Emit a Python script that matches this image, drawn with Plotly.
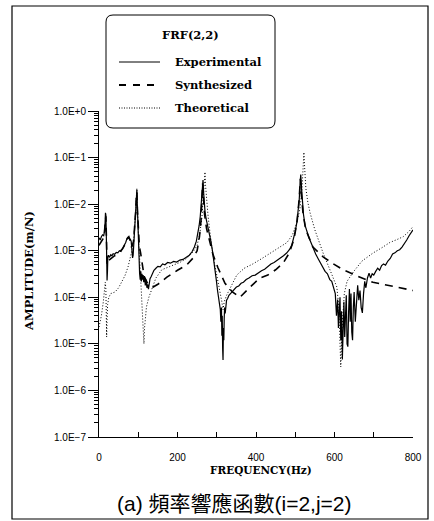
import plotly.graph_objects as go

# ---------------- data: FRF(2,2) amplitude (m/N) vs frequency (Hz) ----------------
exp_freq = [
    0, 3, 6, 9, 12, 14, 15.5, 16.5, 17.5, 18.5,
    19.5, 20.5, 21.5, 22.5, 24, 27, 30, 33, 36, 40,
    44, 48, 52, 56, 60, 64, 68, 71, 74, 77,
    80, 82, 84, 85.5, 87, 88.5, 90, 91.5, 93, 94.5,
    95.5, 96.5, 97.5, 99, 100.5, 102, 103.5, 105, 106.5, 108,
    109.5, 111, 112.5, 114, 116, 118, 120, 122, 124, 126,
    128, 130, 133, 136, 140, 145, 150, 156, 162, 168,
    175, 182, 190, 198, 206, 214, 222, 230, 237, 243,
    248, 252, 255, 258, 260, 262, 263.5, 265, 266.5, 268,
    270, 273, 277, 281, 285, 289, 293, 296, 299, 302,
    305, 307, 309, 310.5, 312, 313, 314, 315, 316, 317,
    318, 319, 320, 321.5, 323, 325, 328, 331, 335, 340,
    345, 350, 356, 362, 368, 375, 382, 390, 398, 406,
    414, 422, 430, 438, 446, 454, 462, 470, 478, 485,
    491, 496, 500, 504, 507, 510, 512, 514, 516, 518,
    521, 525, 530, 535, 540, 546, 552, 558, 564, 570,
    576, 582, 588, 593, 598, 602, 605, 608, 610, 612,
    614, 616, 618, 620, 622, 624, 626, 628, 630, 632,
    634, 636, 638, 640, 642, 644, 646, 648, 650, 653,
    656, 659, 662, 665, 668, 671, 674, 677, 680, 684,
    688, 692, 696, 700, 705, 710, 715, 720, 725, 730,
    736, 742, 748, 754, 760, 766, 772, 778, 784, 790,
    795, 800,
]
exp_amp = [
    1.9e-3, 1.7e-3, 2.0e-3, 2.2e-3, 2.1e-3, 2.6e-3, 4.0e-3, 6.5e-3, 5.8e-3, 2.6e-3,
    9.0e-4, 2.3e-4, 3.5e-4, 7.0e-4, 8.0e-4, 7.2e-4, 8.2e-4, 7.8e-4, 8.6e-4, 8.4e-4,
    9.2e-4, 9.0e-4, 1.0e-3, 9.6e-4, 1.1e-3, 1.25e-3, 1.5e-3, 1.8e-3, 1.9e-3, 1.8e-3,
    1.75e-3, 1.6e-3, 9.0e-4, 7.0e-4, 8.0e-4, 1.4e-3, 2.2e-3, 3.5e-3, 6.0e-3, 1.2e-2,
    1.6e-2, 2.0e-2, 1.0e-2, 3.5e-3, 1.3e-3, 6.0e-4, 3.2e-4, 2.4e-4, 3.6e-4, 2.2e-4,
    3.2e-4, 2.4e-4, 3.0e-4, 2.1e-4, 2.7e-4, 1.8e-4, 2.4e-4, 1.6e-4, 1.9e-4, 1.5e-4,
    1.9e-4, 2.5e-4, 2.8e-4, 3.3e-4, 3.8e-4, 4.2e-4, 4.6e-4, 4.5e-4, 5.2e-4, 5.0e-4,
    5.6e-4, 5.4e-4, 5.9e-4, 5.7e-4, 6.3e-4, 6.5e-4, 7.1e-4, 8.0e-4, 9.5e-4, 1.2e-3,
    1.6e-3, 2.3e-3, 3.4e-3, 5.5e-3, 9.0e-3, 1.8e-2, 2.8e-2, 3.3e-2, 1.8e-2, 1.0e-2,
    7.0e-3, 4.8e-3, 3.5e-3, 2.5e-3, 1.6e-3, 1.0e-3, 6.0e-4, 3.5e-4, 2.3e-4, 1.4e-4,
    1.0e-4, 7.5e-5, 5.5e-5, 3.0e-5, 6.0e-5, 1.5e-5, 4.0e-5, 8.0e-6, 4.5e-6, 2.2e-5,
    1.2e-5, 3.5e-5, 6.0e-5, 4.5e-5, 7.5e-5, 8.7e-5, 9.5e-5, 1.1e-4, 1.2e-4, 1.35e-4,
    1.5e-4, 1.66e-4, 1.75e-4, 2.0e-4, 2.1e-4, 2.4e-4, 2.6e-4, 2.9e-4, 3.0e-4, 3.4e-4,
    3.7e-4, 4.0e-4, 4.6e-4, 5.2e-4, 5.6e-4, 6.2e-4, 7.0e-4, 7.8e-4, 8.9e-4, 1.05e-3,
    1.3e-3, 1.8e-3, 2.6e-3, 4.0e-3, 6.5e-3, 1.2e-2, 2.5e-2, 4.3e-2, 2.2e-2, 1.2e-2,
    6.0e-3, 3.5e-3, 2.4e-3, 1.9e-3, 1.5e-3, 1.1e-3, 8.5e-4, 6.8e-4, 5.4e-4, 4.6e-4,
    3.6e-4, 3.2e-4, 2.4e-4, 2.2e-4, 1.6e-4, 1.2e-4, 4.0e-5, 9.0e-5, 2.2e-5, 6.0e-5,
    1.0e-4, 1.2e-5, 5.0e-5, 4.6e-6, 3.0e-5, 8.0e-5, 1.4e-5, 6.0e-5, 1.1e-4, 1.0e-5,
    8.7e-6, 5.0e-5, 1.5e-4, 3.0e-5, 1.2e-4, 1.8e-5, 1.2e-5, 6.0e-5, 1.3e-4, 3.0e-5,
    1.0e-4, 1.8e-4, 8.7e-5, 1.4e-4, 6.0e-5, 4.6e-5, 1.2e-4, 2.2e-4, 1.6e-4, 2.6e-4,
    3.3e-4, 2.6e-4, 3.2e-4, 3.0e-4, 3.6e-4, 4.2e-4, 3.8e-4, 4.8e-4, 5.2e-4, 4.9e-4,
    6.0e-4, 6.8e-4, 8.5e-4, 9.0e-4, 1.0e-3, 1.05e-3, 1.2e-3, 1.4e-3, 1.7e-3, 2.1e-3,
    2.4e-3, 2.8e-3,
]

syn_freq = [
    0, 5, 10, 14, 16, 17.5, 19, 20.5, 22, 25,
    30, 40, 50, 60, 68, 73, 76, 79, 82, 85,
    88, 91, 93.5, 95.5, 96.5, 98, 100, 103, 106, 110,
    115, 125, 138, 150, 173, 200, 224, 240, 250, 256,
    260, 262.5, 264, 266, 269, 274, 280, 290, 303, 321,
    340, 359, 385, 410, 430, 450, 469, 485, 497, 505,
    510, 513, 516, 520, 527, 545, 571, 594, 622, 660,
    698, 750, 800,
]
syn_amp = [
    1.3e-3, 1.5e-3, 1.8e-3, 2.6e-3, 4.5e-3, 5.5e-3, 1.8e-3, 5.0e-4, 5.2e-4, 6.2e-4,
    6.8e-4, 7.8e-4, 9.0e-4, 1.1e-3, 1.45e-3, 1.9e-3, 2.0e-3, 1.7e-3, 1.2e-3, 1.3e-3,
    1.6e-3, 3.0e-3, 7.0e-3, 1.6e-2, 1.8e-2, 7.0e-3, 2.5e-3, 1.2e-3, 9.0e-4, 5.0e-4,
    2.8e-4, 1.9e-4, 1.66e-4, 1.9e-4, 2.7e-4, 3.8e-4, 5.0e-4, 7.0e-4, 1.0e-3, 2.0e-3,
    4.5e-3, 1.4e-2, 2.8e-2, 1.4e-2, 6.0e-3, 3.0e-3, 1.8e-3, 8.5e-4, 4.3e-4, 2.0e-4,
    1.3e-4, 1.0e-4, 1.66e-4, 2.6e-4, 3.0e-4, 3.9e-4, 5.4e-4, 9.0e-4, 1.8e-3, 4.5e-3,
    1.3e-2, 3.5e-2, 1.5e-2, 6.0e-3, 2.8e-3, 1.2e-3, 7.4e-4, 5.4e-4, 3.9e-4, 2.8e-4,
    2.1e-4, 1.7e-4, 1.4e-4,
]

theo_freq = [
    0, 6, 11, 14, 16, 17.5, 18.5, 19.5, 20.5, 22,
    25, 30, 36, 41, 50, 58, 66, 74, 80, 85,
    89, 92, 94, 95.5, 96.5, 97.5, 99, 102, 105, 108,
    111, 113, 114.5, 116, 118, 121, 127, 134, 145, 160,
    180, 206, 225, 240, 250, 257, 262, 266, 268.5, 270,
    271.5, 274, 278, 284, 291, 300, 308, 313, 316, 319,
    325, 334, 351, 370, 392, 415, 436, 458, 479, 493,
    504, 512, 517, 520, 522, 524, 527, 532, 538, 550,
    571, 590, 606, 611, 614, 616, 618, 621, 625, 632,
    648, 670, 698, 720, 741, 760, 775, 790, 800,
]
theo_amp = [
    2.3e-5, 4.0e-5, 8.0e-5, 1.4e-4, 2.1e-4, 1.5e-4, 5.0e-5, 1.4e-5, 3.5e-5, 7.0e-5,
    1.0e-4, 1.2e-4, 1.25e-4, 1.3e-4, 1.6e-4, 2.1e-4, 2.9e-4, 4.5e-4, 7.0e-4, 1.1e-3,
    2.0e-3, 4.0e-3, 8.0e-3, 1.6e-2, 2.2e-2, 1.0e-2, 3.5e-3, 1.1e-3, 4.0e-4, 1.5e-4,
    5.0e-5, 2.2e-5, 1.0e-5, 2.2e-5, 4.2e-5, 6.3e-5, 1.0e-4, 1.45e-4, 2.6e-4, 3.9e-4,
    4.5e-4, 5.6e-4, 7.0e-4, 9.5e-4, 1.3e-3, 2.4e-3, 5.0e-3, 1.3e-2, 2.8e-2, 4.9e-2,
    2.5e-2, 1.1e-2, 5.4e-3, 2.0e-3, 7.4e-4, 3.0e-4, 1.45e-4, 8.0e-5, 5.4e-5, 8.0e-5,
    1.1e-4, 1.6e-4, 3.0e-4, 4.2e-4, 5.2e-4, 6.8e-4, 8.9e-4, 1.15e-3, 1.5e-3, 2.2e-3,
    4.0e-3, 8.0e-3, 2.0e-2, 6.0e-2, 1.3e-1, 6.0e-2, 2.2e-2, 1.1e-2, 6.4e-3, 2.8e-3,
    8.9e-4, 3.6e-4, 1.66e-4, 6.0e-5, 1.5e-5, 3.2e-6, 1.5e-5, 5.0e-5, 1.2e-4, 2.2e-4,
    3.5e-4, 6.0e-4, 8.9e-4, 1.15e-3, 1.5e-3, 1.75e-3, 2.0e-3, 2.6e-3, 3.3e-3,
]

x_ticks = [0, 200, 400, 600, 800]
x_minor = [100, 300, 500, 700]
y_ticks = [1e0, 1e-1, 1e-2, 1e-3, 1e-4, 1e-5, 1e-6, 1e-7]
y_labels = ["1.0E+0", "1.0E\u22121", "1.0E\u22122", "1.0E\u22123",
            "1.0E\u22124", "1.0E\u22125", "1.0E\u22126", "1.0E\u22127"]
series_names = ["Experimental", "Synthesized", "Theoretical"]

# ---------------- page geometry (pixels) ----------------
W, H = 434, 521
L, R, T, B = 99, 413, 111, 437


def px(x):
    return (x - L) / (R - L)


def py(y):
    return (B - y) / (B - T)


fig = go.Figure()
styles = [
    dict(color="black", width=1.2),
    dict(color="black", width=1.6, dash="8px,6px"),
    dict(color="black", width=1.0, dash="1px,2px"),
]
for name, xs, ys, st in zip(series_names,
                            [exp_freq, syn_freq, theo_freq],
                            [exp_amp, syn_amp, theo_amp], styles):
    fig.add_trace(go.Scatter(x=xs, y=ys, mode="lines", name=name,
                             line=st, showlegend=False))

tick_font = dict(family="Liberation Sans, Arial, sans-serif", size=10, color="black")
fig.update_xaxes(range=[0, 800], showline=True, linecolor="black", linewidth=1,
                 ticks="inside", ticklen=5, tickcolor="black", tickwidth=1,
                 tickvals=x_ticks, ticktext=[str(v) for v in x_ticks],
                 minor=dict(tickvals=x_minor, ticks="inside", ticklen=5,
                            tickcolor="black", showgrid=False),
                 showgrid=False, zeroline=False, tickfont=tick_font,
                 ticklabelstandoff=11)
minor_y = [m * 10 ** e for e in range(-7, 0) for m in range(2, 10)]
fig.update_yaxes(type="log", range=[-7, 0], showline=True, linecolor="black",
                 linewidth=1, ticks="outside", ticklen=10, tickcolor="black",
                 tickvals=y_ticks, ticktext=y_labels,
                 minor=dict(tickvals=minor_y, ticks="outside", ticklen=4,
                            tickcolor="black", showgrid=False),
                 showgrid=False, zeroline=False, tickfont=tick_font)

shapes = []
# outer frame
shapes.append(dict(type="rect", xref="paper", yref="paper",
                   x0=px(12), x1=px(428), y0=py(519), y1=py(6),
                   line=dict(color="black", width=1.2)))

# rounded legend box
bx0, bx1, by0, by1, rad = 106, 275, 15, 128, 7
rx, ry = rad / (R - L), rad / (B - T)
X0, X1, Y0, Y1 = px(bx0), px(bx1), py(by1), py(by0)
path = (f"M {X0 + rx},{Y1} L {X1 - rx},{Y1} Q {X1},{Y1} {X1},{Y1 - ry} "
        f"L {X1},{Y0 + ry} Q {X1},{Y0} {X1 - rx},{Y0} "
        f"L {X0 + rx},{Y0} Q {X0},{Y0} {X0},{Y0 + ry} "
        f"L {X0},{Y1 - ry} Q {X0},{Y1} {X0 + rx},{Y1} Z")
shapes.append(dict(type="path", xref="paper", yref="paper", path=path,
                   line=dict(color="black", width=1)))

legend_rows = [62, 85, 108]
sample_styles = [
    dict(color="black", width=1.0),
    dict(color="black", width=1.8, dash="7px,7px"),
    dict(color="black", width=1.0, dash="1px,1.5px"),
]
for yy, st in zip(legend_rows, sample_styles):
    shapes.append(dict(type="line", xref="paper", yref="paper",
                       x0=px(119), x1=px(160), y0=py(yy), y1=py(yy), line=st))

serif_bold = "DejaVu Serif"
annotations = [
    dict(text="<b>FRF(2,2)</b>", x=px(190), y=py(35), xanchor="center", yanchor="middle",
         font=dict(family=serif_bold, size=11.5, color="black")),
]
for yy, name in zip(legend_rows, series_names):
    annotations.append(dict(text=f"<b>{name}</b>", x=px(173), y=py(yy),
                            xanchor="left", yanchor="middle",
                            font=dict(family=serif_bold, size=11.5, color="black")))
annotations += [
    dict(text="<b>FREQUENCY(Hz)</b>", x=px(261), y=py(470), xanchor="center",
         yanchor="middle", font=dict(family=serif_bold, size=10.5, color="black")),
    dict(text="<b>AMPLITUDE(m/N)</b>", x=px(29), y=py(271), xanchor="center",
         yanchor="middle", textangle=-90,
         font=dict(family=serif_bold, size=11.5, color="black")),
    dict(text="(a) 頻率響應函數(i=2,j=2)", x=px(234), y=py(503), xanchor="center",
         yanchor="middle",
         font=dict(family="Liberation Sans, Noto Sans CJK TC, sans-serif", size=21,
                   color="black")),
]
for a in annotations:
    a.update(xref="paper", yref="paper", showarrow=False)

fig.update_layout(width=W, height=H, margin=dict(l=L, r=W - R, t=T, b=H - B),
                  paper_bgcolor="white", plot_bgcolor="white",
                  shapes=shapes, annotations=annotations, showlegend=False)

fig.write_html("out.html")
